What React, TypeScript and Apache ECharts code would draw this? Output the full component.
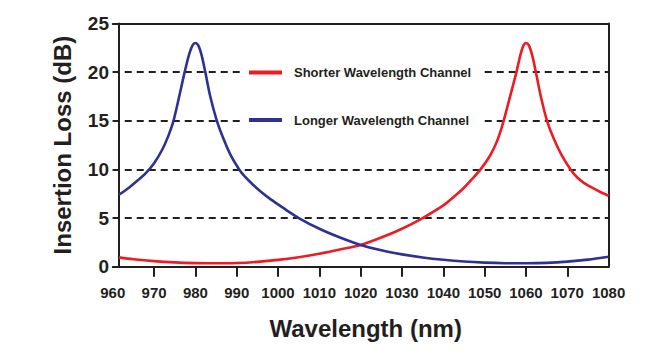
import React, { useEffect, useRef } from "react";
import * as echarts from "echarts";

const SERIES_NAMES = ["Shorter Wavelength Channel", "Longer Wavelength Channel"];
const X_LABEL_MIN = 960;
const X_LABEL_MAX = 1080;
const X_TICKS = [970, 980, 990, 1000, 1010, 1020, 1030, 1040, 1050, 1060, 1070];
const Y_MIN = 0;
const Y_MAX = 25;

// Shorter wavelength channel (red): [wavelength nm, insertion loss dB]
const shorterChannel: [number, number][] = [
  [961.5, 0.96], [965, 0.77], [970, 0.57], [975, 0.44], [980, 0.37], [985, 0.35],
  [990, 0.38], [995, 0.5], [1000, 0.7], [1005, 0.98], [1010, 1.33], [1015, 1.76],
  [1020, 2.24], [1025, 3.0], [1030, 3.9], [1035, 5.0], [1040, 6.3], [1043, 7.35],
  [1045, 8.12], [1047, 9.02], [1049, 10.0], [1051, 11.2], [1052.5, 12.4], [1053.6, 13.6],
  [1054.6, 15.0], [1056.1, 17.4], [1057.7, 20.0], [1058.7, 21.85], [1059.4, 22.75], [1060, 23.0],
  [1060.7, 22.75], [1061.5, 21.75], [1062.4, 20.0], [1063.6, 17.5], [1065.1, 15.0],
  [1066.8, 13.1], [1068.6, 11.5], [1070.8, 10.0], [1072.3, 9.22], [1074, 8.62],
  [1076, 8.12], [1078, 7.68], [1080, 7.3],
];

// Longer wavelength channel (blue)
const longerChannel: [number, number][] = [
  [961.5, 7.4], [964, 8.15], [966, 8.85], [968, 9.62], [970, 10.64], [972, 12.05],
  [973.5, 13.5], [974.7, 15.0], [976, 17.35], [977.4, 20.0], [978.5, 21.85],
  [979.3, 22.75], [980, 23.0], [980.7, 22.75], [981.5, 21.75], [982.4, 20.0], [983.6, 17.5],
  [985.2, 15.0], [986.8, 13.15], [988.5, 11.5], [990.6, 10.0], [992, 9.25], [994, 8.4],
  [996, 7.66], [998, 7.0], [1000, 6.4], [1002, 5.82], [1005, 5.0], [1010, 3.9],
  [1015, 3.0], [1020, 2.24], [1025, 1.68], [1030, 1.27], [1035, 0.95], [1040, 0.71],
  [1045, 0.53], [1050, 0.42], [1055, 0.36], [1060, 0.35], [1065, 0.39], [1070, 0.52],
  [1075, 0.73], [1080, 1.03],
];

const INK = "#231f20";
const RED = "#ed1c24";
const BLUE = "#2e3192";
const FONT = "'Liberation Sans', Arial, Helvetica, sans-serif";

export default function App() {
  const ref = useRef<HTMLDivElement>(null);
  useEffect(() => {
    if (!ref.current) return;
    const chart = echarts.init(ref.current, undefined, { renderer: "svg" });
    chart.setOption({
      animation: false,
      backgroundColor: "#fff",
      grid: { left: 112.75, right: 51.4, top: 23.5, bottom: 90.3, containLabel: false },
      legend: {
        orient: "vertical",
        left: 241,
        top: 59.5,
        padding: [6, 10, 6, 8],
        backgroundColor: "#fff",
        itemWidth: 33,
        itemHeight: 4,
        itemGap: 33.5,
        icon: "rect",
        data: SERIES_NAMES,
        textStyle: {
          fontFamily: FONT,
          fontWeight: "bold",
          fontSize: 13,
          lineHeight: 14,
          color: INK,
          padding: [0, 0, 0, 7],
        },
        z: 10,
      },
      xAxis: [
        {
          type: "value",
          min: X_LABEL_MIN,
          max: X_LABEL_MAX,
          interval: 10,
          name: "Wavelength (nm)",
          nameLocation: "middle",
          nameGap: 50,
          nameTextStyle: {
            fontFamily: FONT,
            fontWeight: "bold",
            fontSize: 24,
            color: INK,
            padding: [0, 0, 0, 10],
          },
          axisLine: { show: true, onZero: false, lineStyle: { color: INK, width: 2 } },
          axisTick: {
            show: true,
            inside: false,
            length: 10,
            customValues: X_TICKS,
            lineStyle: { color: INK, width: 2 },
          },
          axisLabel: {
            fontFamily: FONT,
            fontWeight: "bold",
            fontSize: 15,
            color: INK,
            margin: 18,
            formatter: (v: number) => String(v),
          },
          splitLine: { show: false },
        },
        {
          type: "value",
          position: "top",
          min: X_LABEL_MIN,
          max: X_LABEL_MAX,
          axisLine: { show: true, onZero: false, lineStyle: { color: INK, width: 2 } },
          axisTick: { show: false },
          axisLabel: { show: false },
          splitLine: { show: false },
        },
      ],
      yAxis: [
        {
          type: "value",
          min: Y_MIN,
          max: Y_MAX,
          interval: 5,
          offset: -6.25,
          name: "Insertion Loss (dB)",
          nameLocation: "middle",
          nameGap: 45,
          nameTextStyle: {
            fontFamily: FONT,
            fontWeight: "bold",
            fontSize: 24,
            color: INK,
          },
          axisLine: { show: true, onZero: false, lineStyle: { color: INK, width: 2 } },
          axisTick: { show: true, inside: false, length: 6.25, lineStyle: { color: INK, width: 2 } },
          axisLabel: {
            fontFamily: FONT,
            fontWeight: "bold",
            fontSize: 19,
            color: INK,
            margin: 10,
          },
          splitLine: {
            show: true,
            showMinLine: false,
            showMaxLine: false,
            lineStyle: { color: INK, width: 2, type: [7, 5] },
          },
        },
        {
          type: "value",
          position: "right",
          min: Y_MIN,
          max: Y_MAX,
          axisLine: { show: true, onZero: false, lineStyle: { color: INK, width: 2 } },
          axisTick: { show: false },
          axisLabel: { show: false },
          splitLine: { show: false },
        },
      ],
      series: [
        {
          name: SERIES_NAMES[0],
          type: "line",
          data: shorterChannel,
          showSymbol: false,
          smooth: 0.3,
          color: RED,
          lineStyle: { color: RED, width: 2.6 },
          z: 3,
        },
        {
          name: SERIES_NAMES[1],
          type: "line",
          data: longerChannel,
          showSymbol: false,
          smooth: 0.3,
          color: BLUE,
          lineStyle: { color: BLUE, width: 2.6 },
          z: 3,
        },
      ],
    });
    return () => chart.dispose();
  }, []);
  return (
    <div
      ref={ref}
      style={{ position: "fixed", left: 0, top: 0, width: 660, height: 357, background: "#fff" }}
    />
  );
}
